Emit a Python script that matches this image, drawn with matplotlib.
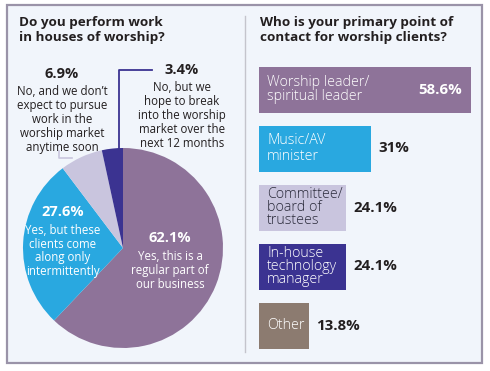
import matplotlib
matplotlib.use("Agg")
import matplotlib.pyplot as plt
from matplotlib.patches import Rectangle

plt.rcParams['font.family'] = ['Open Sans', 'DejaVu Sans']

# ---------------- data ----------------
pie_values = [62.1, 27.6, 6.9, 3.4]
pie_pct_labels = ["62.1%", "27.6%", "6.9%", "3.4%"]
pie_descriptions = [
    "Yes, this is a\nregular part of\nour business",
    "Yes, but these\nclients come\nalong only\nintermittently",
    "No, and we don\u2019t\nexpect to pursue\nwork in the\nworship market\nanytime soon",
    "No, but we\nhope to break\ninto the worship\nmarket over the\nnext 12 months",
]
pie_colors = ["#8E7399", "#29A8E0", "#C9C5DE", "#3B3391"]

bar_categories = [
    "Worship leader/\nspiritual leader",
    "Music/AV\nminister",
    "Committee/\nboard of\ntrustees",
    "In-house\ntechnology\nmanager",
    "Other",
]
bar_values = [58.6, 31, 24.1, 24.1, 13.8]
bar_value_labels = ["58.6%", "31%", "24.1%", "24.1%", "13.8%"]
bar_colors = ["#8E7399", "#29A8E0", "#C9C5DE", "#3B3391", "#8C7B70"]
bar_text_colors = ["white", "white", "#2A2A3A", "white", "white"]

left_title = "Do you perform work\nin houses of worship?"
right_title = "Who is your primary point of\ncontact for worship clients?"

W, H = 490, 371
DARK = "#231F20"
fig = plt.figure(figsize=(W / 100, H / 100), dpi=100)
fig.patch.set_facecolor("white")

# overlay axes in pixel coordinates
ov = fig.add_axes([0, 0, 1, 1])
ov.set_xlim(0, W)
ov.set_ylim(H, 0)
ov.axis("off")
ov.add_patch(Rectangle((7, 5), 475, 358, facecolor="#F1F5FB", edgecolor="#9A93A8", lw=1.6))
ov.plot([245, 245], [16, 352], color="#C4C4CC", lw=1)

ov.text(19, 16, left_title, ha="left", va="top", fontsize=9.7, fontweight="bold",
        color=DARK, linespacing=1.25)
ov.text(260, 16, right_title, ha="left", va="top", fontsize=9.7, fontweight="bold",
        color=DARK, linespacing=1.25)

# ---------------- pie ----------------
cx, cy, r = 123, 248, 100
pax = fig.add_axes([(cx - r) / W, (H - cy - r) / H, 2 * r / W, 2 * r / H])
pax.pie(pie_values, colors=pie_colors, startangle=90, counterclock=False,
        radius=1, wedgeprops=dict(linewidth=0))
pax.set_aspect("equal")
pax.set_xlim(-1, 1)
pax.set_ylim(-1, 1)
pax.axis("off")

DESC_FS = 8.3
DESC_LS = 1.1

# inside labels (pie data coordinates)
pax.text(0.47, 0.10, pie_pct_labels[0], ha="center", va="center", fontsize=10.5,
         fontweight="bold", color="white")
pax.text(0.47, -0.02, pie_descriptions[0], ha="center", va="top", fontsize=DESC_FS,
         color="white", linespacing=DESC_LS)
pax.text(-0.60, 0.36, pie_pct_labels[1], ha="center", va="center", fontsize=10.5,
         fontweight="bold", color="white")
pax.text(-0.60, 0.245, pie_descriptions[1], ha="center", va="top", fontsize=DESC_FS,
         color="white", linespacing=DESC_LS)

# outside labels (pixel coords)
ov.text(62, 74, pie_pct_labels[2], ha="center", va="center", fontsize=10.5,
        fontweight="bold", color=DARK)
ov.text(62, 85, pie_descriptions[2], ha="center", va="top", fontsize=DESC_FS,
        color=DARK, linespacing=DESC_LS)
ov.text(182, 70, pie_pct_labels[3], ha="center", va="center", fontsize=10.5,
        fontweight="bold", color=DARK)
ov.text(182, 81, pie_descriptions[3], ha="center", va="top", fontsize=DESC_FS,
        color=DARK, linespacing=DESC_LS)
# leader lines
ov.plot([59, 59, 72], [151, 158, 158], color="#C9C5DE", lw=1.2)
ov.plot([152, 119, 119], [70, 70, 150], color="#3B3391", lw=1.3)

# ---------------- bars ----------------
bx0, bx1 = 259, 471
by_top, pitch = 60, 59
bax = fig.add_axes([bx0 / W, (H - (by_top + 5 * pitch)) / H, (bx1 - bx0) / W, 5 * pitch / H])
bax.patch.set_alpha(0)
ypos = list(range(len(bar_values)))
bax.barh(ypos, bar_values, height=46 / 59, color=bar_colors, left=0)
bax.set_xlim(0, max(bar_values))
bax.set_ylim(len(bar_values) - 0.5, -0.5)
bax.axis("off")

for i, (cat, val, vl, tc) in enumerate(zip(bar_categories, bar_values, bar_value_labels, bar_text_colors)):
    ls = 0.86 if cat.count("\n") >= 2 else 1.0
    bax.annotate(cat, xy=(0, i), xytext=(8, 0), textcoords="offset pixels",
                 ha="left", va="center", fontsize=10.3, color=tc, linespacing=ls,
                 fontweight="light")
    if i == 0:
        bax.annotate(vl, xy=(val, i), xytext=(-9, 0), textcoords="offset pixels",
                     ha="right", va="center", fontsize=10.8, fontweight="bold", color="white")
    else:
        bax.annotate(vl, xy=(val, i), xytext=(7, 0), textcoords="offset pixels",
                     ha="left", va="center", fontsize=10.8, fontweight="bold", color=DARK,
                     annotation_clip=False)

fig.savefig("out.png", dpi=100, facecolor="white")
